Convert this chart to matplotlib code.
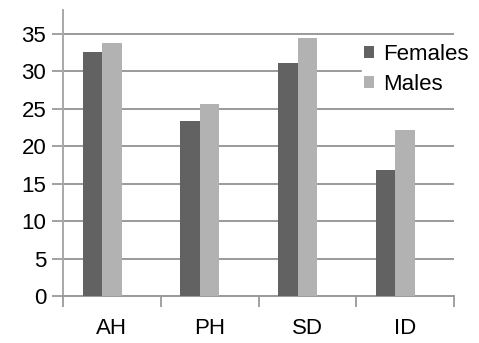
import matplotlib.pyplot as plt
import numpy as np

plt.rcParams['font.family'] = ['Liberation Sans', 'DejaVu Sans']

categories = ["AH", "PH", "SD", "ID"]
females = [32.6, 23.4, 31.1, 16.8]
males = [33.8, 25.6, 34.4, 22.2]
yticks = [0, 5, 10, 15, 20, 25, 30, 35]

fig = plt.figure(figsize=(4.79, 3.43), dpi=100)
ax = fig.add_axes([63/479, 47/343, (454-63)/479, (296-10)/343])

x = np.arange(len(categories))
w = 0.2
# Excel style cluster: the bars sit left of the category centre
b1 = ax.bar(x - w, females, w, color="#626262", label="Females", zorder=3)
b2 = ax.bar(x, males, w, color="#b2b2b2", label="Males", zorder=3)

ax.set_xlim(-0.5, len(categories) - 0.5)
ax.set_ylim(0, 38.2)
ax.set_yticks(yticks)
ax.set_yticklabels([str(v) for v in yticks], fontsize=16)
ax.set_xticks(x)
ax.set_xticklabels(categories, fontsize=16)
ax.set_xticks(np.arange(len(categories) + 1) - 0.5, minor=True)

ax.grid(axis="y", color="#9a9a9a", linewidth=1.4, zorder=0)
ax.tick_params(axis="y", length=8, width=1.3, color="#9a9a9a", pad=4)
ax.tick_params(axis="x", which="major", length=0, pad=16)
ax.tick_params(axis="x", which="minor", length=8, width=1.3, color="#9a9a9a")

for s in ["top", "right"]:
    ax.spines[s].set_visible(False)
ax.spines["left"].set_color("#a8a8a8")
ax.spines["left"].set_linewidth(1.4)
ax.spines["bottom"].set_color("#9a9a9a")
ax.spines["bottom"].set_linewidth(1.4)

leg = ax.legend(loc="upper left", bbox_to_anchor=(0.765, 0.89), fontsize=16,
                frameon=True, framealpha=1, edgecolor="white", fancybox=False,
                handlelength=0.45, handleheight=0.45, handletextpad=0.4,
                borderpad=0.1, labelspacing=0.4, borderaxespad=0)
leg.set_zorder(5)

fig.savefig("out.png", dpi=100)
